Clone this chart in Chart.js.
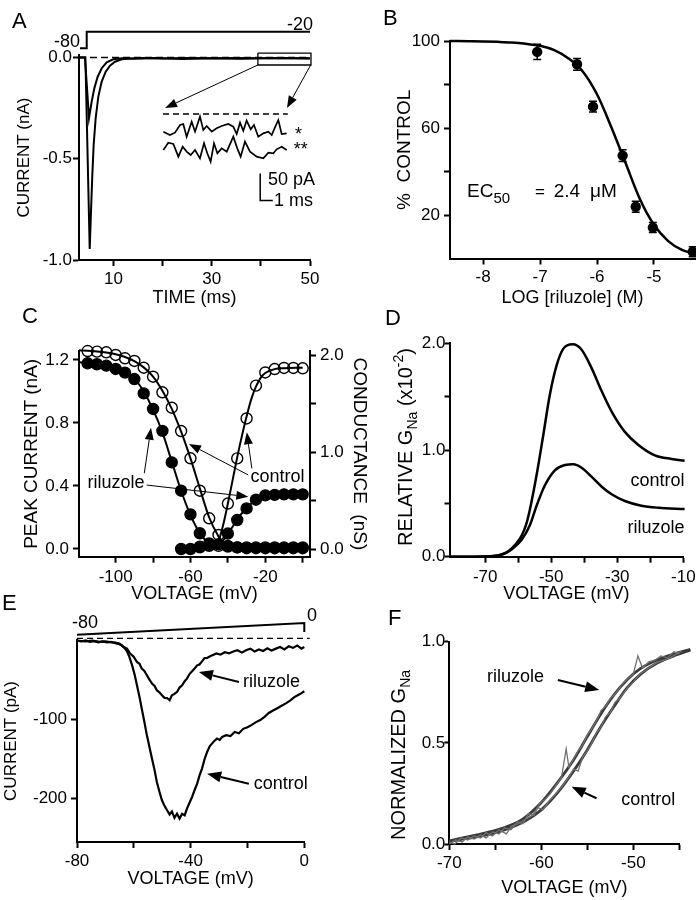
<!DOCTYPE html>
<html>
<head>
<meta charset="utf-8">
<script src="https://cdn.jsdelivr.net/npm/chart.js@4.4.1/dist/chart.umd.min.js"></script>
<style>
    body { margin: 0; background: #fff; }
    #wrap { position: relative; width: 696px; height: 900px; }
    #wrap canvas { position: absolute; left: 0; top: 0; }
</style>
</head>
<body>
<div id="wrap">
    <canvas id="panelA" width="696" height="900"></canvas>
    <canvas id="panelB" width="696" height="900"></canvas>
    <canvas id="panelC" width="696" height="900"></canvas>
    <canvas id="panelD" width="696" height="900"></canvas>
    <canvas id="panelE" width="696" height="900"></canvas>
    <canvas id="panelF" width="696" height="900"></canvas>
</div>
<script>
// ---- data: panel A (current traces, ms / nA)
var A_TIME_SMALL = [3, 4.2, 4.6, 5.03, 5.3, 5.58, 6.12, 6.8, 7.62, 8.63, 9.98, 11.7, 14, 18, 24, 30, 36, 42, 50];
var A_CUR_SMALL = [0, 0, -0.14, -0.30, -0.26, -0.218, -0.152, -0.095, -0.053, -0.024, -0.009, -0.004, -0.006, -0.003, -0.007, -0.004, -0.006, -0.003, -0.005];
var A_TIME_BIG = [3, 4.3, 5.18, 5.44, 5.71, 5.98, 6.39, 6.93, 7.62, 8.43, 9.31, 10.32, 11.7, 13.4, 16, 20, 25, 30, 35, 40, 45, 50];
var A_CUR_BIG = [0, 0, -0.945, -0.761, -0.58, -0.432, -0.30, -0.193, -0.119, -0.07, -0.04, -0.021, -0.009, -0.005, -0.003, -0.005, -0.002, -0.004, -0.002, -0.004, -0.002, -0.004];
var A_ZERO_T = [3, 50];
var A_ZERO_I = [0, 0];
// voltage protocol (mV)
var A_PROTOCOL_T = [3.2, 4.57, 4.57, 50];
var A_PROTOCOL_MV = [-80, -80, -20, -20];
// zoom box around the tail
var A_BOX_T = [39.4, 50.2, 50.2, 39.4, 39.4];
var A_BOX_I = [0.022, 0.022, -0.037, -0.037, 0.022];
// inset (ms, pA)
var A_INSET_1 = [[0.03,-32.7],[0.58,-38.9],[1.0,-34.6],[1.42,-20.4],[1.69,-18.5],[1.97,-42],[2.39,-14.2],[2.67,-32.7],[3.08,-4.9],[3.36,-29.6],[3.64,-22.2],[4.06,-32.7],[4.47,-26.5],[4.89,-22.2],[5.44,-18.5],[5.86,-23.4],[6.14,-37],[6.42,-16],[6.69,-30.9],[6.97,-12.3],[7.31,-28.4],[7.58,-20.4],[7.94,-42],[8.36,-35.8],[8.78,-32.7],[9.06,-38.9],[9.33,-24.7],[9.61,-11.1],[9.89,-37],[10.31,-35.8]];
var A_INSET_2 = [[0.03,-66.6],[0.44,-53.1],[0.86,-55.5],[1.28,-79],[1.64,-60.5],[1.97,-69.7],[2.31,-75.9],[2.67,-66.6],[3.08,-82.1],[3.42,-54.3],[3.69,-72.8],[3.97,-88.2],[4.25,-54.3],[4.53,-72.8],[4.89,-63.6],[5.31,-69.7],[5.86,-42],[6.19,-63.6],[6.47,-79],[6.83,-51.2],[7.25,-69.7],[7.81,-79],[8.36,-82.1],[8.78,-71.6],[9.19,-72.8],[9.47,-65.4],[9.89,-60.5],[10.31,-66.6]];
var A_INSET_ZERO_T = [0, 10.4];
var A_INSET_ZERO_PA = [0, 0];
var A_BAR_T = [8.1, 8.1, 9.15];
var A_BAR_PA = [-110, -160, -160];

// ---- panel B (dose response)
var B_LOG = [-7.05, -6.35, -6.07, -5.55, -5.32, -5.02, -4.32];
var B_PCT = [95, 89.3, 69.8, 47.3, 23.8, 14.2, 3.1];
var B_ERR = [3.5, 2.7, 2.5, 2.7, 2.5, 2.3, 2.3];
var B_FIT_LOG = [-8.58, -8.25, -8, -7.75, -7.5, -7.25, -7, -6.75, -6.5, -6.25, -6, -5.75, -5.5, -5.25, -5, -4.75, -4.5, -4.28];
var B_FIT_PCT = [100, 99.9, 99.8, 99.6, 99.3, 98.7, 97.8, 95.8, 92, 86, 75.5, 60.5, 44, 27.5, 15.5, 8, 3.8, 2.2];

// ---- panel C (peak current nA, conductance nS)
var C_V_CTRL_INACT = [-115, -110, -105, -100, -95, -90, -85, -80, -75, -70, -65, -60, -55, -50, -45];
var C_CTRL_INACT = [1.257, 1.253, 1.249, 1.232, 1.211, 1.194, 1.151, 1.094, 0.995, 0.897, 0.749, 0.576, 0.37, 0.195, 0.089];
var C_V_RIL_INACT = [-115, -110, -105, -100, -95, -90, -85, -80, -75, -70, -65, -60, -55, -50];
var C_RIL_INACT = [1.179, 1.173, 1.164, 1.143, 1.12, 1.079, 0.988, 0.889, 0.75, 0.55, 0.37, 0.22, 0.1, 0.035];
var C_V_ACT = [-40, -35, -30, -25, -20, -15, -10, -5, 0];
var C_CTRL_ACT = [0.47, 0.937, 1.35, 1.69, 1.826, 1.861, 1.872, 1.872, 1.869];
var C_RIL_ACT = [0.16, 0.3, 0.42, 0.51, 0.555, 0.56, 0.565, 0.565, 0.565];
var C_V_BASE_RIL = [-65, -60, -55, -50, -45, -40, -35, -30, -25, -20, -15, -10, -5, 0];
var C_BASE_RIL = [0, 0, 0.01, 0.025, 0.03, 0.02, 0.01, 0.005, 0.005, 0.005, 0.005, 0.005, 0.005, 0.005];
var C_V_BASE_CTRL = [-55, -50, -45, -40, -35, -30, -25, -20, -15, -10, -5, 0];
var C_BASE_CTRL = [0.015, 0.02, 0.02, 0.015, 0.01, 0.01, 0.01, 0.01, 0.01, 0.01, 0.01, 0.01];
var C_FIT_CTRL_INACT = [[-119.6,1.262],[-115,1.258],[-110,1.254],[-105,1.247],[-100,1.236],[-95,1.219],[-90,1.193],[-85,1.153],[-80,1.095],[-75,1.005],[-70,0.89],[-65,0.745],[-60,0.575],[-55,0.385],[-50,0.2],[-45,0.08],[-42,0.03],[-38,0.005]];
var C_FIT_RIL_INACT = [[-119.6,1.185],[-115,1.18],[-110,1.174],[-105,1.164],[-100,1.148],[-95,1.122],[-90,1.082],[-85,1.0],[-80,0.885],[-75,0.74],[-70,0.555],[-65,0.37],[-60,0.215],[-55,0.1],[-50,0.035],[-45,0.01],[-40,0]];
var C_FIT_CTRL_ACT = [[-50,0],[-47,0.02],[-45,0.08],[-42.5,0.25],[-40,0.47],[-37.5,0.71],[-35,0.95],[-32.5,1.17],[-30,1.37],[-27.5,1.55],[-25,1.68],[-22.5,1.77],[-20,1.82],[-15,1.86],[-10,1.87],[0,1.875]];
var C_FIT_RIL_ACT = [[-52,0],[-47,0.02],[-45,0.04],[-42.5,0.09],[-40,0.16],[-37.5,0.23],[-35,0.31],[-32.5,0.37],[-30,0.42],[-27.5,0.47],[-25,0.51],[-22.5,0.54],[-20,0.55],[-15,0.56],[-10,0.565],[0,0.565]];

// ---- panel D (relative GNa x10^-2)
var D_CONTROL = [[-80.8,0],[-70,0.003],[-66,0.012],[-63.5,0.04],[-61.9,0.08],[-60.4,0.13],[-58.9,0.2],[-57.6,0.3],[-56.4,0.45],[-54.4,0.77],[-52.4,1.14],[-50.4,1.52],[-48.3,1.8],[-46.3,1.95],[-43.5,1.99],[-40.8,1.94],[-37.8,1.77],[-34.7,1.55],[-31.7,1.36],[-27.7,1.17],[-23.7,1.05],[-18.6,0.95],[-13.6,0.916],[-9.6,0.9]];
var D_RILUZOLE = [[-80.8,0],[-70,0.003],[-66,0.012],[-63.5,0.038],[-61.9,0.07],[-60.4,0.11],[-58.9,0.16],[-56.4,0.3],[-54.4,0.48],[-51.9,0.67],[-48.9,0.81],[-45.8,0.86],[-43.3,0.866],[-40.8,0.834],[-37.8,0.75],[-34.7,0.656],[-31.7,0.585],[-27.7,0.522],[-22.7,0.478],[-17.6,0.459],[-9.6,0.447]];

// ---- panel E (ramp currents, mV / pA)
var E_CONTROL = [[-80,-1],[-78.5,-2],[-77,-0.5],[-75.5,-2.5],[-74,-1.5],[-72.5,-3],[-71,-1.8],[-69.5,-3.2],[-68,-2.5],[-66.5,-4],[-65.3,-5],[-64.2,-7],[-63.3,-10],[-62.4,-14.4],[-61.5,-22],[-60.6,-32],[-59.7,-44],[-58.9,-57.2],[-58,-72],[-57.2,-86.6],[-56.3,-103],[-55.4,-120.2],[-54.5,-135],[-53.6,-149.6],[-52.7,-164],[-51.9,-179],[-51,-191],[-50.1,-202],[-49.2,-209],[-48.3,-214.6],[-47.4,-220],[-46.6,-216],[-45.7,-224],[-44.8,-218.8],[-43.9,-225],[-43,-219],[-42.1,-221],[-41.3,-212.5],[-40.4,-205],[-39.5,-197.8],[-38.6,-189],[-37.7,-181],[-36.9,-171],[-36,-162.1],[-35.1,-150],[-34.2,-141.1],[-33.3,-134],[-32.5,-130.6],[-31.6,-127],[-30.7,-124.3],[-29.8,-126],[-28.9,-122.2],[-27.5,-120],[-26,-121],[-24.5,-116],[-23,-117.5],[-21.5,-112],[-20,-110],[-18.5,-107],[-17,-103.5],[-15.5,-101],[-14,-97],[-12.5,-92],[-11,-89],[-9.5,-86],[-8,-83],[-6.5,-80],[-5,-76.5],[-3.5,-72],[-2,-69],[-1,-67],[0,-64.7]];
var E_RILUZOLE = [[-80,-1],[-77,-2],[-74.7,-1],[-72,-2.5],[-70,-1.8],[-68,-3],[-66.5,-3.5],[-65,-5],[-63.6,-8.9],[-62.4,-11],[-61.3,-17.3],[-60.1,-21],[-58.9,-27.8],[-58,-30],[-57.2,-36.2],[-56.3,-39],[-55.4,-44.6],[-54.5,-50],[-53.6,-55.1],[-52.7,-58],[-51.9,-63.5],[-51,-66],[-50.1,-69.8],[-49.2,-73],[-48.3,-73.2],[-47.4,-76],[-46.6,-69.8],[-45.7,-68],[-44.8,-65.6],[-43.9,-60],[-43,-57.2],[-42.1,-52],[-41.3,-48.8],[-40.4,-43],[-39.5,-39.6],[-38.6,-36],[-37.7,-32],[-36.9,-31],[-36,-27],[-35.1,-23],[-34.2,-22.8],[-33.3,-21],[-32.5,-19.5],[-31,-17],[-29.5,-18.5],[-28,-15.5],[-26.5,-17],[-25,-14.5],[-23.5,-13],[-22,-16],[-20.5,-13],[-19,-11],[-17.5,-14.5],[-16,-12],[-14.5,-14],[-13,-10.5],[-11.5,-13.5],[-10,-11],[-8.5,-9],[-7,-12],[-5.5,-8],[-4,-10],[-2.5,-7],[-1,-11],[0,-9]];
var E_PROTOCOL = [[-80,-80],[0,0],[0,-62],[1.5,-62]];
var E_ZERO = [[-80,2],[1.9,2]];

// ---- panel F (normalized GNa)
var F_FIT_RIL = [[-70,0.015],[-68.8,0.028],[-67,0.045],[-65.5,0.061],[-63.7,0.086],[-61.9,0.127],[-60.1,0.2],[-58.3,0.3],[-56.5,0.415],[-55,0.531],[-53.6,0.638],[-52.1,0.737],[-50.7,0.811],[-49.2,0.868],[-47.4,0.91],[-45.6,0.939],[-43.8,0.962]];
var F_FIT_CTRL = [[-70,0.012],[-68.8,0.022],[-67,0.035],[-65.5,0.05],[-63.7,0.075],[-61.9,0.11],[-60.1,0.165],[-58.3,0.25],[-56.5,0.36],[-55,0.465],[-53.6,0.575],[-52.1,0.68],[-50.7,0.77],[-49.2,0.84],[-47.4,0.895],[-45.6,0.93],[-43.8,0.958]];
var F_DATA_RIL = [[-70,0],[-69.3,0.02],[-68.6,0.01],[-68,0.035],[-67.3,0.025],[-66.6,0.045],[-66,0.03],[-65.3,0.06],[-64.6,0.05],[-64,0.08],[-63.3,0.07],[-62.6,0.11],[-62,0.1],[-61.4,0.15],[-60.8,0.14],[-60.2,0.2],[-59.6,0.22],[-59,0.25],[-58.4,0.29],[-57.8,0.33],[-57.3,0.47],[-57,0.38],[-56.5,0.42],[-56,0.46],[-55.5,0.49],[-55,0.54],[-54.5,0.57],[-54,0.61],[-53.5,0.66],[-53,0.68],[-52.5,0.72],[-52,0.74],[-51.5,0.77],[-51,0.8],[-50.5,0.82],[-50,0.84],[-49.5,0.93],[-49,0.87],[-48.3,0.9],[-47.6,0.91],[-47,0.93],[-46.3,0.92],[-45.6,0.95],[-45,0.94],[-44.5,0.97],[-44,0.95],[-43.6,0.99]];
var F_DATA_CTRL = [[-70,0.01],[-69.4,0],[-68.7,0.03],[-68,0.02],[-67.3,0.04],[-66.6,0.03],[-66,0.055],[-65.3,0.04],[-64.6,0.07],[-63.8,0.05],[-63.2,0.09],[-62.5,0.1],[-61.8,0.12],[-61,0.14],[-60.4,0.18],[-59.8,0.17],[-59.2,0.21],[-58.6,0.24],[-58,0.27],[-57.5,0.3],[-57,0.33],[-56.5,0.37],[-56,0.36],[-55.5,0.43],[-55,0.46],[-54.5,0.5],[-54,0.55],[-53.5,0.58],[-53,0.63],[-52.5,0.65],[-52,0.7],[-51.5,0.72],[-51,0.75],[-50.5,0.78],[-50,0.8],[-49.3,0.84],[-48.6,0.86],[-48,0.88],[-47.3,0.9],[-46.6,0.91],[-46,0.92],[-45.3,0.94],[-44.7,0.955],[-44.2,0.94],[-43.6,0.97]];

// ---- tick lists
var A_X_TICKS = [10, 20, 30, 40, 50], A_X_LABELS = [10, 30, 50];
var A_Y_TICKS = [-1, -0.5, 0];
var B_X_TICKS = [-8, -7, -6, -5];
var B_Y_TICKS = [20, 40, 60, 80, 100], B_Y_LABELS = [20, 60, 100];
var C_X_TICKS = [-100, -80, -60, -40, -20, 0], C_X_LABELS = [-100, -60, -20];
var C_Y_TICKS = [0, 0.4, 0.8, 1.2];
var C_Y1_TICKS = [0, 0.5, 1, 1.5, 2], C_Y1_LABELS = [0, 1, 2];
var D_X_TICKS = [-70, -60, -50, -40, -30, -20, -10], D_X_LABELS = [-70, -50, -30, -10];
var D_Y_TICKS = [0, 0.5, 1, 1.5, 2], D_Y_LABELS = [0, 1, 2];
var E_X_TICKS = [-80, -60, -40, -20, 0], E_X_LABELS = [-80, -40, 0];
var E_Y_TICKS = [-200, -100];
var F_X_TICKS = [-70, -65, -60, -55, -50, -45], F_X_LABELS = [-70, -60, -50];
var F_Y_TICKS = [0, 0.5, 1];

var FONT = "'Liberation Sans', Arial, Helvetica, sans-serif";
var PAGE_W = 696, PAGE_H = 900;

Chart.defaults.font.family = FONT;
Chart.defaults.font.size = 17;
Chart.defaults.color = '#000';

function pts(xs, ys) {
    return xs.map(function (x, i) { return {x: x, y: ys[i]}; });
}
function pairs(list) {
    return list.map(function (p) { return {x: p[0], y: p[1]}; });
}

// axis with fixed box size so the plot area lands where the figure has it
function axisFor(o) {
    return {
        type: 'linear',
        position: o.position,
        min: o.min,
        max: o.max,
        afterBuildTicks: function (scale) {
            scale.ticks = o.ticks.map(function (v) { return {value: v}; });
        },
        afterFit: function (scale) {
            if (scale.isHorizontal()) { scale.height = o.size; } else { scale.width = o.size; }
            scale.paddingLeft = 0; scale.paddingRight = 0; scale.paddingTop = 0; scale.paddingBottom = 0;
        },
        grid: {display: true, drawOnChartArea: false, drawTicks: true, tickLength: o.tickLength || 6, tickWidth: 2, tickColor: '#000', color: '#000'},
        border: {display: true, color: '#000', width: 2},
        ticks: {
            autoSkip: false, maxRotation: 0, minRotation: 0, padding: o.pad, color: '#000', font: {size: 17},
            callback: function (value) {
                var labels = o.labels || o.ticks;
                if (labels.indexOf(value) === -1) return '';
                return o.digits ? value.toFixed(o.digits) : String(value);
            }
        },
        title: {display: !!o.title, text: o.title || '', color: '#000', padding: 0, font: {size: o.titleSize || 18}}
    };
}
function hiddenAxis(position, min, max) {
    return {type: 'linear', display: false, position: position, min: min, max: max};
}

function trace(data, extra) {
    var ds = {data: data, borderColor: '#000', backgroundColor: '#000', borderWidth: 2, pointRadius: 0, pointHoverRadius: 0, tension: 0, fill: false, clip: false, showLine: true};
    for (var k in extra) ds[k] = extra[k];
    return ds;
}
function markers(data, extra) {
    var ds = {data: data, showLine: false, borderColor: '#000', pointRadius: 5.5, pointHoverRadius: 5.5, pointBorderWidth: 1.4, pointBorderColor: '#000', pointBackgroundColor: '#000', clip: false};
    for (var k in extra) ds[k] = extra[k];
    return ds;
}

function toPx(chart, id, v) {
    return id ? chart.scales[id].getPixelForValue(v) : v;
}
function drawArrow(ctx, x1, y1, x2, y2, w, len, half) {
    var a = Math.atan2(y2 - y1, x2 - x1);
    var bx = x2 - Math.cos(a) * len, by = y2 - Math.sin(a) * len;
    ctx.strokeStyle = '#000';
    ctx.lineWidth = w;
    ctx.beginPath(); ctx.moveTo(x1, y1); ctx.lineTo(bx, by); ctx.stroke();
    ctx.fillStyle = '#000';
    ctx.beginPath();
    ctx.moveTo(x2, y2);
    ctx.lineTo(bx - Math.sin(a) * half, by + Math.cos(a) * half);
    ctx.lineTo(bx + Math.sin(a) * half, by - Math.cos(a) * half);
    ctx.closePath();
    ctx.fill();
}
function drawRuns(ctx, x, y, runs, rot, align) {
    ctx.save();
    ctx.translate(x, y);
    ctx.rotate(rot || 0);
    ctx.fillStyle = '#000';
    ctx.textAlign = 'left';
    ctx.textBaseline = 'alphabetic';
    var total = 0;
    runs.forEach(function (r) { ctx.font = r[1] + 'px ' + FONT; total += ctx.measureText(r[0]).width; });
    var cx = align === 'center' ? -total / 2 : 0;
    runs.forEach(function (r) {
        ctx.font = r[1] + 'px ' + FONT;
        ctx.fillText(r[0], cx, r[2] || 0);
        cx += ctx.measureText(r[0]).width;
    });
    ctx.restore();
}
// labels, arrows and panel letters
function notesPlugin(notes) {
    return {
        id: 'notes',
        afterDatasetsDraw: function (chart) {
            var ctx = chart.ctx;
            ctx.save();
            notes.forEach(function (n) {
                if (n.arrow) {
                    drawArrow(ctx, toPx(chart, n.xs1, n.x1), toPx(chart, n.ys1, n.y1),
                        toPx(chart, n.xs2, n.x2), toPx(chart, n.ys2, n.y2), n.width, n.head, n.half);
                } else if (n.runs) {
                    drawRuns(ctx, toPx(chart, n.xs, n.x), toPx(chart, n.ys, n.y), n.runs, n.rotate, n.align);
                } else {
                    ctx.font = (n.size || 18) + 'px ' + FONT;
                    ctx.fillStyle = '#000';
                    ctx.textAlign = n.align || 'left';
                    ctx.textBaseline = n.baseline || 'alphabetic';
                    ctx.fillText(n.text, toPx(chart, n.xs, n.x), toPx(chart, n.ys, n.y));
                }
            });
            ctx.restore();
        }
    };
}
var errorBars = {
    id: 'errorBars',
    afterDatasetsDraw: function (chart) {
        var xs = chart.scales.x, ys = chart.scales.y, ctx = chart.ctx;
        ctx.save();
        ctx.strokeStyle = '#000';
        ctx.lineWidth = 1.5;
        B_LOG.forEach(function (v, i) {
            var x = xs.getPixelForValue(v);
            var top = ys.getPixelForValue(B_PCT[i] + B_ERR[i]);
            var bot = ys.getPixelForValue(B_PCT[i] - B_ERR[i]);
            ctx.beginPath();
            ctx.moveTo(x, top); ctx.lineTo(x, bot);
            ctx.moveTo(x - 4, top); ctx.lineTo(x + 4, top);
            ctx.moveTo(x - 4, bot); ctx.lineTo(x + 4, bot);
            ctx.stroke();
        });
        ctx.restore();
    }
};

function makeChart(id, frame, scales, datasets, plugins) {
    return new Chart(document.getElementById(id), {
        type: 'line',
        data: {datasets: datasets},
        options: {
            responsive: false,
            animation: false,
            devicePixelRatio: 1,
            events: [],
            layout: {
                autoPadding: false,
                padding: {
                    left: frame.l - frame.left,
                    top: frame.t,
                    right: PAGE_W - frame.r - (frame.right || 0),
                    bottom: PAGE_H - frame.b - frame.bottom
                }
            },
            plugins: {legend: {display: false}, tooltip: {enabled: false}, title: {display: false}},
            scales: scales
        },
        plugins: plugins
    });
}

// plot frames: l/t/r/b of the plot area, and the widths of the axis boxes
var FRAME_A = {l: 79, t: 55, r: 310, b: 260, left: 64.7, bottom: 49.3};
var FRAME_B = {l: 450, t: 41, r: 695, b: 258.5, left: 56.4, bottom: 50.3};
var FRAME_C = {l: 79, t: 351, r: 310, b: 556.7, left: 58.9, bottom: 48.1, right: 60.4};
var FRAME_D = {l: 449.5, t: 343.3, r: 683.3, b: 556.7, left: 40, bottom: 48.1};
var FRAME_E = {l: 77, t: 639.9, r: 304.3, b: 842, left: 75.5, bottom: 47.8};
var FRAME_F = {l: 449.3, t: 641.7, r: 679.3, b: 844, left: 40, bottom: 54.8};

// ---------------- A
makeChart('panelA', FRAME_A, {
    x: axisFor({position: 'bottom', min: 3, max: 50, ticks: A_X_TICKS, labels: A_X_LABELS, size: FRAME_A.bottom, pad: 3, title: 'TIME (ms)'}),
    y: axisFor({position: 'left', min: -1, max: 0.0123, ticks: A_Y_TICKS, digits: 1, size: FRAME_A.left, pad: 1, title: 'CURRENT (nA)', titleSize: 17}),
    y2: hiddenAxis('left', -845.1, -104.2),
    xi: hiddenAxis('bottom', -7, 12.25),
    yi: hiddenAxis('left', -270.4, 109.3)
}, [
    trace(pts(A_TIME_BIG, A_CUR_BIG)),
    trace(pts(A_TIME_SMALL, A_CUR_SMALL)),
    trace(pts(A_ZERO_T, A_ZERO_I), {borderDash: [7, 4], borderWidth: 1.5}),
    trace(pts(A_PROTOCOL_T, A_PROTOCOL_MV), {yAxisID: 'y2'}),
    trace(pts(A_BOX_T, A_BOX_I), {borderWidth: 1.3}),
    trace(pairs(A_INSET_1), {xAxisID: 'xi', yAxisID: 'yi', borderWidth: 1.7}),
    trace(pairs(A_INSET_2), {xAxisID: 'xi', yAxisID: 'yi', borderWidth: 1.7}),
    trace(pts(A_INSET_ZERO_T, A_INSET_ZERO_PA), {xAxisID: 'xi', yAxisID: 'yi', borderDash: [6, 4], borderWidth: 1.5}),
    trace(pts(A_BAR_T, A_BAR_PA), {xAxisID: 'xi', yAxisID: 'yi', borderWidth: 1.5})
], [notesPlugin([
    {text: 'A', x: 12, y: 28, size: 22},
    {text: '-80', x: 3.2, y: -75.3, xs: 'x', ys: 'y2', align: 'right'},
    {text: '-20', x: 50.6, y: -13.9, xs: 'x', ys: 'y2', align: 'right'},
    {arrow: true, x1: 39.4, y1: -0.037, xs1: 'x', ys1: 'y', x2: 0.17, y2: 11.1, xs2: 'xi', ys2: 'yi', width: 1, head: 12, half: 4.5},
    {arrow: true, x1: 50.14, y1: -0.037, xs1: 'x', ys1: 'y', x2: 10.33, y2: 11.1, xs2: 'xi', ys2: 'yi', width: 1, head: 12, half: 4.5},
    {text: '*', x: 11.0, y: -48, xs: 'xi', ys: 'yi'},
    {text: '**', x: 10.9, y: -75.9, xs: 'xi', ys: 'yi'},
    {text: '50 pA', x: 8.75, y: -131.5, xs: 'xi', ys: 'yi'},
    {text: '1 ms', x: 9.25, y: -170.4, xs: 'xi', ys: 'yi'}
])]);

// ---------------- B
makeChart('panelB', FRAME_B, {
    x: axisFor({position: 'bottom', min: -8.58, max: -4.28, ticks: B_X_TICKS, size: FRAME_B.bottom, pad: 3, title: 'LOG [riluzole] (M)'}),
    y: axisFor({position: 'left', min: 0, max: 100, ticks: B_Y_TICKS, labels: B_Y_LABELS, size: FRAME_B.left, pad: 4, title: '%  CONTROL', titleSize: 19})
}, [
    markers(pts(B_LOG, B_PCT), {pointRadius: 4.5}),
    trace(pts(B_FIT_LOG, B_FIT_PCT), {borderWidth: 2.5, cubicInterpolationMode: 'monotone'})
], [errorBars, notesPlugin([
    {text: 'B', x: 383, y: 25, size: 22},
    {runs: [['EC', 19, 0], ['50', 15, 6]], x: -8.28, y: 28.3, xs: 'x', ys: 'y'},
    {text: '=', x: -7.09, y: 28.3, xs: 'x', ys: 'y', size: 17},
    {text: '2.4', x: -6.76, y: 28.3, xs: 'x', ys: 'y', size: 19},
    {text: 'μM', x: -6.124, y: 28.3, xs: 'x', ys: 'y', size: 19}
])]);

// ---------------- C
makeChart('panelC', FRAME_C, {
    x: axisFor({position: 'bottom', min: -119.6, max: 3.9, ticks: C_X_TICKS, labels: C_X_LABELS, size: FRAME_C.bottom, pad: 4, title: 'VOLTAGE (mV)'}),
    y: axisFor({position: 'left', min: -0.0489, max: 1.2571, ticks: C_Y_TICKS, digits: 1, size: FRAME_C.left, pad: 4, title: 'PEAK CURRENT (nA)', titleSize: 19}),
    y1: axisFor({position: 'right', min: -0.0796, max: 2.0476, ticks: C_Y1_TICKS, labels: C_Y1_LABELS, digits: 1, size: FRAME_C.right, pad: 4, title: 'CONDUCTANCE  (nS)', titleSize: 19})
}, [
    markers(pts(C_V_CTRL_INACT, C_CTRL_INACT), {pointBackgroundColor: 'rgba(255,255,255,0)'}),
    markers(pts(C_V_ACT, C_CTRL_ACT), {yAxisID: 'y1', pointBackgroundColor: 'rgba(255,255,255,0)'}),
    markers(pts(C_V_BASE_CTRL, C_BASE_CTRL), {pointBackgroundColor: 'rgba(255,255,255,0)'}),
    markers(pts(C_V_RIL_INACT, C_RIL_INACT)),
    markers(pts(C_V_ACT, C_RIL_ACT), {yAxisID: 'y1'}),
    markers(pts(C_V_BASE_RIL, C_BASE_RIL)),
    trace(pairs(C_FIT_CTRL_INACT), {cubicInterpolationMode: 'monotone'}),
    trace(pairs(C_FIT_RIL_INACT), {cubicInterpolationMode: 'monotone'}),
    trace(pairs(C_FIT_CTRL_ACT), {yAxisID: 'y1', cubicInterpolationMode: 'monotone'}),
    trace(pairs(C_FIT_RIL_ACT), {yAxisID: 'y1', cubicInterpolationMode: 'monotone'})
], [notesPlugin([
    {text: 'C', x: 22, y: 323, size: 22},
    {text: 'riluzole', x: -99.8, y: 0.419, xs: 'x', ys: 'y', align: 'center', baseline: 'middle'},
    {text: 'control', x: -13.5, y: 0.457, xs: 'x', ys: 'y', align: 'center', baseline: 'middle'},
    {arrow: true, x1: -84.7, y1: 0.481, x2: -81.1, y2: 0.77, xs1: 'x', ys1: 'y', xs2: 'x', ys2: 'y', width: 1, head: 12, half: 4.5},
    {arrow: true, x1: -83.4, y1: 0.406, x2: -29.1, y2: 0.332, xs1: 'x', ys1: 'y', xs2: 'x', ys2: 'y', width: 1, head: 12, half: 4.5},
    {arrow: true, x1: -29.1, y1: 0.47, x2: -60.8, y2: 0.667, xs1: 'x', ys1: 'y', xs2: 'x', ys2: 'y', width: 1, head: 12, half: 4.5},
    {arrow: true, x1: -27.2, y1: 0.512, x2: -29.9, y2: 0.741, xs1: 'x', ys1: 'y', xs2: 'x', ys2: 'y', width: 1, head: 12, half: 4.5}
])]);

// ---------------- D
makeChart('panelD', FRAME_D, {
    x: axisFor({position: 'bottom', min: -80.8, max: -10, ticks: D_X_TICKS, labels: D_X_LABELS, size: FRAME_D.bottom, pad: 4, title: 'VOLTAGE (mV)'}),
    y: axisFor({position: 'left', min: 0, max: 2, ticks: D_Y_TICKS, labels: D_Y_LABELS, digits: 1, size: FRAME_D.left, pad: -1, tickLength: 5})
}, [
    trace(pairs(D_CONTROL), {borderWidth: 2.5, cubicInterpolationMode: 'monotone'}),
    trace(pairs(D_RILUZOLE), {borderWidth: 2.5, cubicInterpolationMode: 'monotone'})
], [notesPlugin([
    {text: 'D', x: 385, y: 325, size: 22},
    {text: 'control', x: -9.6, y: 0.709, xs: 'x', ys: 'y', align: 'right', baseline: 'middle'},
    {text: 'riluzole', x: -9.6, y: 0.269, xs: 'x', ys: 'y', align: 'right', baseline: 'middle'},
    {runs: [['RELATIVE G', 20, 7], ['Na', 14, 12], [' (x10', 20, 7], ['-2', 14, -2], [')', 20, 7]], x: 405, y: 447, rotate: -Math.PI / 2, align: 'center'}
])]);

// ---------------- E
makeChart('panelE', FRAME_E, {
    x: axisFor({position: 'bottom', min: -80, max: 0, ticks: E_X_TICKS, labels: E_X_LABELS, size: FRAME_E.bottom, pad: 3, title: 'VOLTAGE (mV)'}),
    y: axisFor({position: 'left', min: -254.5, max: 0, ticks: E_Y_TICKS, size: FRAME_E.left, pad: 4, title: 'CURRENT (pA)', titleSize: 17}),
    yp: hiddenAxis('left', -1497.9, -115.6)
}, [
    trace(pairs(E_RILUZOLE), {borderWidth: 2.2}),
    trace(pairs(E_CONTROL), {borderWidth: 2.2}),
    trace(pairs(E_PROTOCOL), {yAxisID: 'yp'}),
    trace(pairs(E_ZERO), {borderDash: [6, 4], borderWidth: 1.2})
], [notesPlugin([
    {text: 'E', x: 2, y: 610, size: 22},
    {text: '-80', x: -81.8, y: -34.2, xs: 'x', ys: 'yp'},
    {text: '0', x: 0.95, y: 13.7, xs: 'x', ys: 'yp'},
    {arrow: true, x1: -23.0, y1: -53, x2: -37.1, y2: -40.4, xs1: 'x', ys1: 'y', xs2: 'x', ys2: 'y', width: 2, head: 14, half: 5.5},
    {arrow: true, x1: -19.5, y1: -181.1, x2: -34.2, y2: -168.5, xs1: 'x', ys1: 'y', xs2: 'x', ys2: 'y', width: 2, head: 14, half: 5.5},
    {text: 'riluzole', x: -21.6, y: -53, xs: 'x', ys: 'y', baseline: 'middle'},
    {text: 'control', x: -17.8, y: -181.1, xs: 'x', ys: 'y', baseline: 'middle'}
])]);

// ---------------- F
makeChart('panelF', FRAME_F, {
    x: axisFor({position: 'bottom', min: -70, max: -45, ticks: F_X_TICKS, labels: F_X_LABELS, size: FRAME_F.bottom, pad: 3, title: 'VOLTAGE (mV)'}),
    y: axisFor({position: 'left', min: 0, max: 1, ticks: F_Y_TICKS, digits: 1, size: FRAME_F.left, pad: -1, tickLength: 5})
}, [
    trace(pairs(F_DATA_RIL), {borderColor: '#707070', borderWidth: 1.3}),
    trace(pairs(F_DATA_CTRL), {borderColor: '#707070', borderWidth: 1.3}),
    trace(pairs(F_FIT_RIL), {borderColor: '#3a3a3a', borderWidth: 2.8, cubicInterpolationMode: 'monotone'}),
    trace(pairs(F_FIT_CTRL), {borderColor: '#3a3a3a', borderWidth: 2.8, cubicInterpolationMode: 'monotone'})
], [notesPlugin([
    {text: 'F', x: 388, y: 625, size: 22},
    {text: 'riluzole', x: -65.9, y: 0.827, xs: 'x', ys: 'y', baseline: 'middle'},
    {arrow: true, x1: -58.2, y1: 0.811, x2: -53.7, y2: 0.761, xs1: 'x', ys1: 'y', xs2: 'x', ys2: 'y', width: 2, head: 14, half: 5.5},
    {text: 'control', x: -51.3, y: 0.217, xs: 'x', ys: 'y', baseline: 'middle'},
    {arrow: true, x1: -54.0, y1: 0.226, x2: -56.7, y2: 0.283, xs1: 'x', ys1: 'y', xs2: 'x', ys2: 'y', width: 2, head: 14, half: 5.5},
    {runs: [['NORMALIZED G', 20, 7], ['Na', 14, 12]], x: 397.5, y: 755, rotate: -Math.PI / 2, align: 'center'}
])]);
</script>
</body>
</html>
